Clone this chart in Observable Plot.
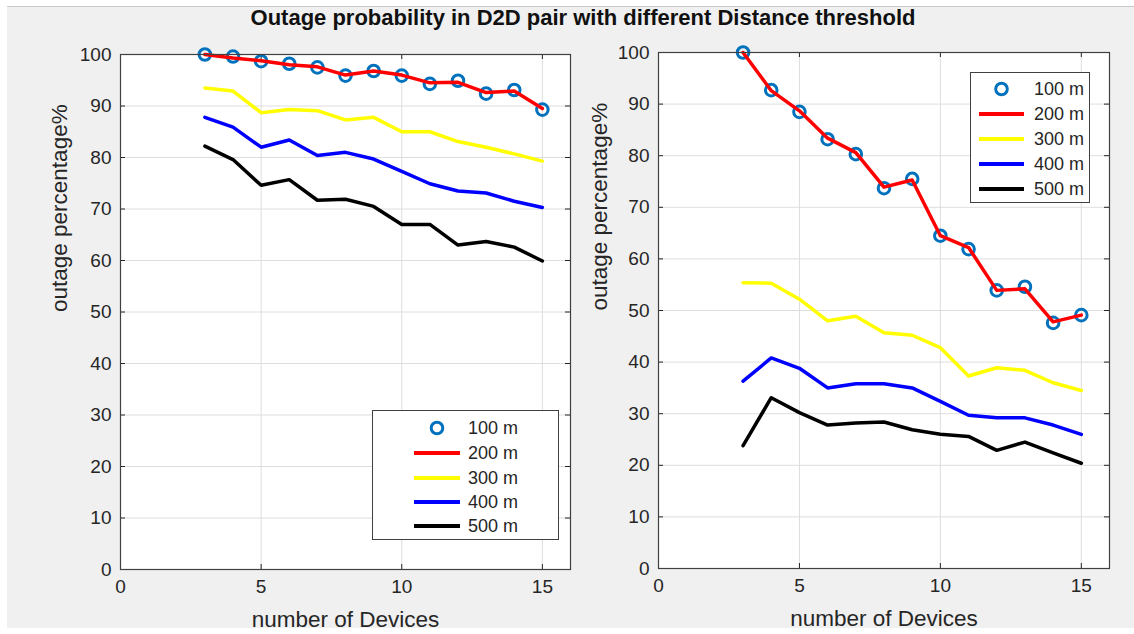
<!DOCTYPE html>
<html>
<head>
<meta charset="utf-8">
<script src="https://cdn.jsdelivr.net/npm/d3@7"></script>
<script src="https://cdn.jsdelivr.net/npm/@observablehq/plot@0.6"></script>
<style>
  html, body { margin: 0; padding: 0; background: #ffffff; }
  #wrap { position: relative; width: 1134px; height: 634px; overflow: hidden; font-family: "Liberation Sans", Arial, sans-serif; }
  #panel { position: absolute; left: 7px; top: 6px; width: 1127px; height: 621px; background: #f0f0f0; border-top: 1px solid #c8c8c8; }
  #title { position: absolute; left: 0; width: 1166px; top: 5px; text-align: center; font-weight: bold; font-size: 22px; color: #111; }
  .plotbox { position: absolute; top: 0; }
  .legend { position: absolute; background: #fff; border: 1px solid #404040; box-sizing: border-box; }
  .legend .row { position: absolute; height: 22px; line-height: 22px; font-size: 18px; color: #262626; }
</style>
</head>
<body>
<div id="wrap">
  <div id="panel"></div>
  <div id="title">Outage probability in D2D pair with different Distance threshold</div>
  <div id="left" class="plotbox" style="left:0px"></div>
  <div id="right" class="plotbox" style="left:560px"></div>
</div>
<script>
// ---------- data ----------
const devices = [3, 4, 5, 6, 7, 8, 9, 10, 11, 12, 13, 14, 15];
const seriesNames = ["100 m", "200 m", "300 m", "400 m", "500 m"];
const seriesColors = ["#0072BD", "#ff0000", "#ffff00", "#0000ff", "#000000"];
const xTicks = [0, 5, 10, 15];
const yTicks = [0, 10, 20, 30, 40, 50, 60, 70, 80, 90, 100];

// left panel
const left100 = [100, 99.6, 98.7, 98.2, 97.5, 95.9, 96.8, 95.9, 94.3, 94.9, 92.4, 93.1, 89.3];
const left200 = [100, 99.3, 98.8, 98.0, 97.6, 96.0, 96.8, 96.0, 94.5, 94.6, 92.6, 92.9, 89.5];
const left300 = [93.5, 92.9, 88.7, 89.3, 89.1, 87.3, 87.8, 85.0, 85.0, 83.1, 82.0, 80.7, 79.3];
const left400 = [87.8, 85.9, 82.0, 83.4, 80.4, 81.0, 79.7, 77.3, 74.9, 73.5, 73.1, 71.5, 70.3];
const left500 = [82.2, 79.6, 74.6, 75.7, 71.7, 71.9, 70.5, 67.0, 67.0, 63.0, 63.7, 62.6, 59.9];

// right panel
const right100 = [100, 92.7, 88.5, 83.2, 80.3, 73.7, 75.5, 64.5, 61.9, 53.9, 54.6, 47.6, 49.1];
const right200 = [100, 92.6, 88.7, 83.4, 80.6, 73.9, 75.3, 64.5, 62.2, 53.9, 54.2, 47.8, 49.1];
const right300 = [55.4, 55.3, 52.2, 48.0, 48.9, 45.7, 45.2, 42.8, 37.3, 38.9, 38.4, 36.0, 34.5];
const right400 = [36.3, 40.8, 38.8, 35.0, 35.8, 35.8, 35.0, 32.4, 29.7, 29.2, 29.2, 27.8, 26.0];
const right500 = [23.8, 33.1, 30.2, 27.8, 28.2, 28.4, 26.9, 26.0, 25.6, 22.9, 24.5, 22.4, 20.4];

const xLabel = "number of Devices";
const yLabel = "outage percentage%";

function toRows(arr) { return devices.map((d, i) => ({x: d, y: arr[i]})); }

function makePlot(sets, cfg) {
  const [s100, s200, s300, s400, s500] = sets.map(toRows);
  const frameH = cfg.height - cfg.marginTop - cfg.marginBottom;
  const frameW = cfg.width - cfg.marginLeft - cfg.marginRight;
  const tickLen = 5;
  const lineOpts = (c) => ({x: "x", y: "y", stroke: c, strokeWidth: 3.5, strokeLinejoin: "round"});
  return Plot.plot({
    width: cfg.width, height: cfg.height,
    marginLeft: cfg.marginLeft, marginRight: cfg.marginRight,
    marginTop: cfg.marginTop, marginBottom: cfg.marginBottom,
    style: {background: "transparent", fontFamily: "Liberation Sans, Arial, sans-serif", fontSize: "19px", color: "#262626", overflow: "visible"},
    x: {domain: [0, 16], label: null},
    y: {domain: [0, 100], label: null},
    marks: [
      Plot.frame({fill: "#ffffff"}),
      Plot.gridX(xTicks, {stroke: "#dedede", strokeOpacity: 1}),
      Plot.gridY(yTicks, {stroke: "#dedede", strokeOpacity: 1}),
      Plot.axisX(xTicks, {tickSize: 0, tickPadding: 10, fill: "#262626", fontSize: 19}),
      Plot.axisY(yTicks, {tickSize: 0, tickPadding: 9, fill: "#262626", fontSize: 19}),
      // inward tick marks (MATLAB style)
      Plot.tickX(xTicks, {x: d => d, stroke: "#262626", insetTop: frameH - tickLen}),
      Plot.tickX(xTicks, {x: d => d, stroke: "#262626", insetBottom: frameH - tickLen}),
      Plot.tickY(yTicks, {y: d => d, stroke: "#262626", insetRight: frameW - tickLen}),
      Plot.tickY(yTicks, {y: d => d, stroke: "#262626", insetLeft: frameW - tickLen}),
      Plot.dot(s100, {x: "x", y: "y", r: 5.8, stroke: seriesColors[0], strokeWidth: 3, fill: "none"}),
      Plot.line(s200, lineOpts(seriesColors[1])),
      Plot.line(s300, lineOpts(seriesColors[2])),
      Plot.line(s400, lineOpts(seriesColors[3])),
      Plot.line(s500, lineOpts(seriesColors[4])),
      Plot.frame({stroke: "#404040", strokeWidth: 1.2}),
      Plot.text([xLabel], {frameAnchor: "bottom", dy: 57, fontSize: 22.5, fill: "#262626"}),
      Plot.text([yLabel], {frameAnchor: "left", dx: cfg.yLabelDx, rotate: -90, fontSize: 22.5, fill: "#262626"})
    ]
  });
}

document.getElementById("left").append(makePlot(
  [left100, left200, left300, left400, left500],
  {width: 580, height: 634, marginLeft: 120, marginRight: 10, marginTop: 54, marginBottom: 65, yLabelDx: -61}
));
document.getElementById("right").append(makePlot(
  [right100, right200, right300, right400, right500],
  {width: 574, height: 634, marginLeft: 98, marginRight: 25, marginTop: 52, marginBottom: 66, yLabelDx: -59}
));

// ---------- legends ----------
function makeLegend(box) {
  const lg = document.createElement("div");
  lg.className = "legend";
  Object.assign(lg.style, {left: box.x + "px", top: box.y + "px", width: box.w + "px", height: box.h + "px"});
  seriesNames.forEach((name, i) => {
    const cy = box.rowY[i] - box.y;
    const sw = document.createElementNS("http://www.w3.org/2000/svg", "svg");
    sw.setAttribute("width", box.swW + 10);
    sw.setAttribute("height", 16);
    Object.assign(sw.style, {position: "absolute", left: (box.swX - box.x - 5) + "px", top: (cy - 8) + "px"});
    if (i === 0) {
      const c = document.createElementNS("http://www.w3.org/2000/svg", "circle");
      c.setAttribute("cx", 5 + box.swW / 2); c.setAttribute("cy", 8); c.setAttribute("r", 5.8);
      c.setAttribute("fill", "none"); c.setAttribute("stroke", seriesColors[0]); c.setAttribute("stroke-width", 3);
      sw.append(c);
    } else {
      const l = document.createElementNS("http://www.w3.org/2000/svg", "line");
      l.setAttribute("x1", 5); l.setAttribute("x2", 5 + box.swW); l.setAttribute("y1", 8); l.setAttribute("y2", 8);
      l.setAttribute("stroke", seriesColors[i]); l.setAttribute("stroke-width", 4);
      sw.append(l);
    }
    lg.append(sw);
    const t = document.createElement("div");
    t.className = "row";
    t.textContent = name;
    Object.assign(t.style, {left: (box.textX - box.x) + "px", top: (cy - 11) + "px"});
    lg.append(t);
  });
  document.getElementById("wrap").append(lg);
}
makeLegend({x: 372, y: 410, w: 187, h: 130, swX: 413, swW: 46, textX: 467, rowY: [427, 452, 477, 501, 525]});
makeLegend({x: 970, y: 72, w: 120, h: 131, swX: 978, swW: 45, textX: 1033, rowY: [88, 113, 138, 163, 188]});
</script>
</body>
</html>
